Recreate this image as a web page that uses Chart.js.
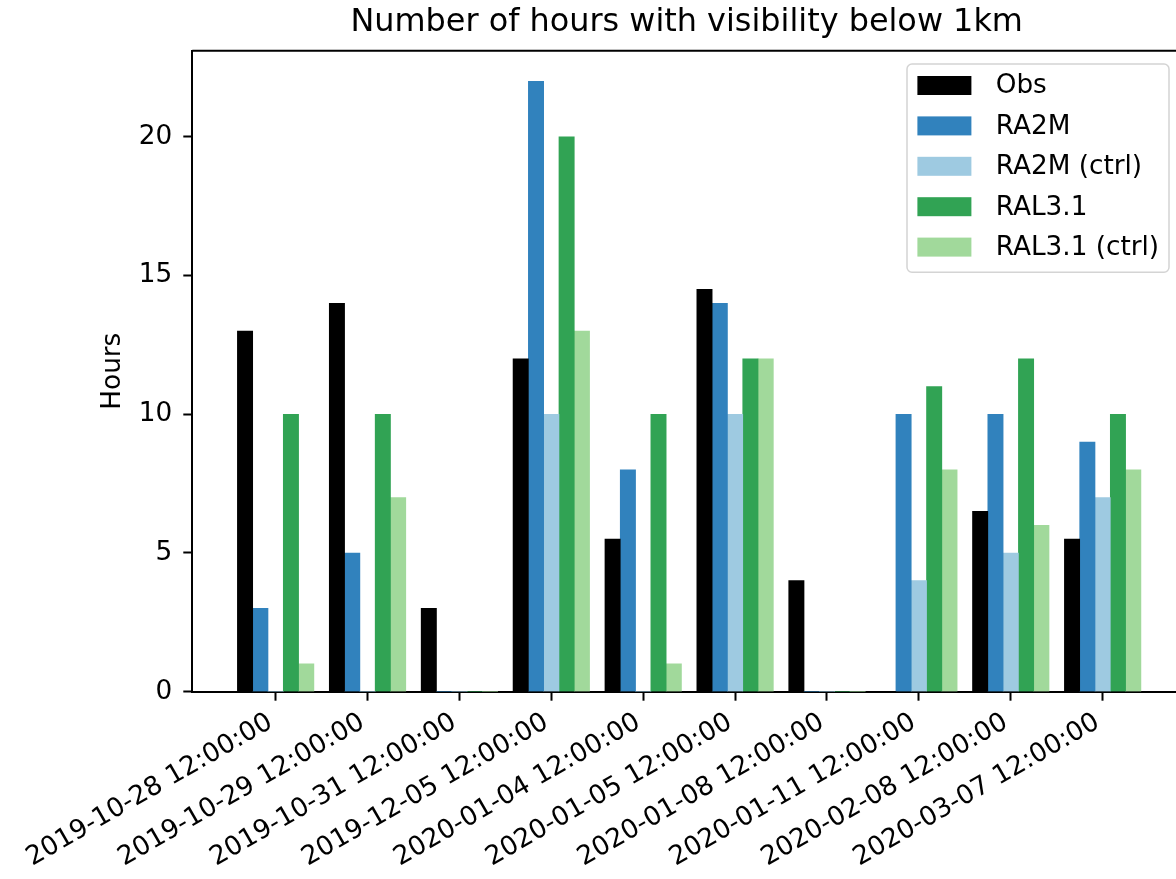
<!DOCTYPE html>
<html lang="en">
<head>
<meta charset="UTF-8">
<title>Number of hours with visibility below 1km</title>
<script src="https://cdn.jsdelivr.net/npm/chart.js"></script>
<style>
    html, body { margin: 0; padding: 0; background: white; overflow: hidden; }
    canvas { display: block; }
</style>
</head>
<body>
<canvas id="visChart" width="1200" height="879"></canvas>
<script>
// case dates (x categories)
const dates = [
    "2019-10-28 12:00:00", "2019-10-29 12:00:00", "2019-10-31 12:00:00",
    "2019-12-05 12:00:00", "2020-01-04 12:00:00", "2020-01-05 12:00:00",
    "2020-01-08 12:00:00", "2020-01-11 12:00:00", "2020-02-08 12:00:00",
    "2020-03-07 12:00:00"
];

// hours with visibility < 1km
const obs       = [13, 14, 3, 12, 5.5, 14.5, 4, 0, 6.5, 5.5];
const ra2m      = [3, 5, 0, 22, 8, 14, 0, 10, 10, 9];
const ra2mCtrl  = [0, 0, 0, 10, 0, 10, 0, 4, 5, 7];
const ral31     = [10, 10, 0, 20, 10, 12, 0, 11, 12, 10];
const ral31Ctrl = [1, 7, 0, 13, 1, 12, 0, 8, 6, 8];

const yTicks = [0, 5, 10, 15, 20];

const TITLE = "Number of hours with visibility below 1km";
const FONT = "DejaVu Sans";

function toPoints(values) {
    return values.map((v, i) => ({ x: i, y: v }));
}

// matplotlib style: title centred over the axes, top + right spines
const axesDecor = {
    id: "axesDecor",
    afterDatasetsDraw(chart) {
        const { ctx, chartArea: a } = chart;
        ctx.save();
        ctx.strokeStyle = "#000";
        ctx.lineWidth = 2;
        ctx.beginPath();
        ctx.moveTo(a.left, a.top);
        ctx.lineTo(a.right, a.top);
        ctx.lineTo(a.right, a.bottom);
        ctx.stroke();

        ctx.fillStyle = "#000";
        ctx.font = "31.9px " + FONT;
        ctx.textAlign = "center";
        ctx.textBaseline = "middle";
        ctx.fillText(TITLE, (a.left + a.right) / 2 - 2.5, 22.5);
        ctx.restore();
    }
};

// legend box in the upper right of the axes
const boxLegend = {
    id: "boxLegend",
    afterDraw(chart) {
        const { ctx, chartArea: a } = chart;
        const sets = chart.data.datasets;
        const right = a.right - 17, top = a.top + 13.3;
        const w = 262, h = 208.3;
        const left = right - w;
        ctx.save();
        ctx.beginPath();
        ctx.roundRect(left, top, w, h, 5);
        ctx.fillStyle = "rgba(255,255,255,0.8)";
        ctx.fill();
        ctx.strokeStyle = "#d4d4d4";
        ctx.lineWidth = 1.5;
        ctx.stroke();
        ctx.font = "26.3px " + FONT;
        ctx.textBaseline = "middle";
        ctx.textAlign = "left";
        sets.forEach((ds, i) => {
            const cy = top + 21.5 + i * 40.4;
            ctx.fillStyle = ds.backgroundColor;
            ctx.fillRect(left + 10.4, cy - 9.5, 54, 19);
            ctx.fillStyle = "#000";
            ctx.fillText(ds.label, left + 88.7, cy + 1);
        });
        ctx.restore();
    }
};

const ctx = document.getElementById("visChart").getContext("2d");
const chart = new Chart(ctx, {
    type: "bar",
    data: {
        datasets: [
            { label: "Obs", data: toPoints(obs), backgroundColor: "#000000" },
            { label: "RA2M", data: toPoints(ra2m), backgroundColor: "#3182bd" },
            { label: "RA2M (ctrl)", data: toPoints(ra2mCtrl), backgroundColor: "#9ecae1" },
            { label: "RAL3.1", data: toPoints(ral31), backgroundColor: "#31a354" },
            { label: "RAL3.1 (ctrl)", data: toPoints(ral31Ctrl), backgroundColor: "#a1d99b" }
        ]
    },
    options: {
        responsive: false,
        animation: false,
        devicePixelRatio: 1,
        layout: { padding: { top: 50.7, left: 0, right: 14, bottom: 0 } },
        datasets: { bar: { barThickness: 15.3, grouped: true, borderWidth: 0 } },
        plugins: {
            legend: { display: false },
            tooltip: { enabled: false },
            title: { display: false }
        },
        scales: {
            x: {
                type: "linear",
                offset: false,
                min: -0.907,
                max: 9.907,
                afterFit(scale) { scale.height = 187.3; },
                afterBuildTicks(scale) {
                    scale.ticks = dates.map((d, i) => ({ value: i }));
                },
                grid: {
                    offset: false,
                    drawOnChartArea: false,
                    drawTicks: true,
                    tickLength: 9,
                    tickWidth: 2,
                    tickColor: "#000"
                },
                border: { display: true, color: "#000", width: 2 },
                ticks: {
                    autoSkip: false,
                    minRotation: 30,
                    maxRotation: 30,
                    padding: 6,
                    labelOffset: -5,
                    color: "#000",
                    font: { family: FONT, size: 26.3 },
                    callback: (v) => dates[v]
                }
            },
            y: {
                min: 0,
                max: 23.1,
                afterFit(scale) { scale.width = 192.3; },
                afterBuildTicks(scale) {
                    scale.ticks = yTicks.map(v => ({ value: v }));
                },
                grid: {
                    drawOnChartArea: false,
                    drawTicks: true,
                    tickLength: 9,
                    tickWidth: 2,
                    tickColor: "#000"
                },
                border: { display: true, color: "#000", width: 2 },
                ticks: {
                    padding: 11,
                    color: "#000",
                    font: { family: FONT, size: 26.3 }
                },
                title: {
                    display: true,
                    text: "Hours",
                    color: "#000",
                    font: { family: FONT, size: 26.3 },
                    padding: { top: 97, bottom: 0 }
                }
            }
        }
    },
    plugins: [axesDecor, boxLegend]
});
</script>
</body>
</html>
